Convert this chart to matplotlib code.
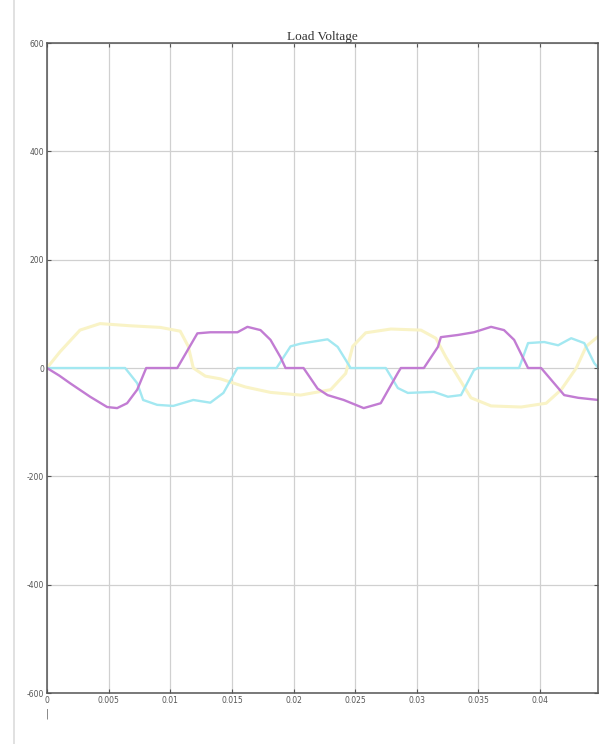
import matplotlib
matplotlib.use("Agg")
import matplotlib.pyplot as plt
from matplotlib.lines import Line2D

plt.rcParams["axes.unicode_minus"] = False

# time (s) and voltage
t_mag = [0.0, 0.0010, 0.00187, 0.0035, 0.00488, 0.00569, 0.0065, 0.00732, 0.00805, 0.01057,
         0.0122, 0.01325, 0.01545, 0.01626, 0.01732, 0.01813, 0.01894, 0.01935, 0.02081,
         0.02195, 0.02276, 0.02407, 0.02569, 0.02707, 0.02846, 0.0287, 0.03057, 0.03171,
         0.03195, 0.03333, 0.03463, 0.03602, 0.03707, 0.03789, 0.03902, 0.04008, 0.04195,
         0.04309, 0.04472]
v_mag = [0, -14, -28, -53, -72, -74, -65, -40, 0, 0,
         64, 66, 66, 76, 70, 52, 20, 0, 0,
         -38, -50, -59, -74, -65, -9, 0, 0, 39,
         57, 61, 66, 76, 70, 52, 0, 0, -50,
         -55, -59]

t_cyan = [0.0, 0.00634, 0.00732, 0.0078, 0.00894, 0.01024, 0.01187, 0.01325, 0.01431,
          0.01545, 0.01862, 0.01976, 0.02057, 0.02276, 0.02358, 0.02463, 0.02748, 0.02846,
          0.02927, 0.03138, 0.03252, 0.03358, 0.03463, 0.03496, 0.03829, 0.03902, 0.04033,
          0.04146, 0.04252, 0.04358, 0.04439, 0.04472]
v_cyan = [0, 0, -28, -59, -68, -70, -59, -64, -46,
          0, 0, 40, 45, 53, 39, 0, 0, -37,
          -46, -44, -53, -50, -4, 0, 0, 46, 48,
          42, 55, 46, 9, 0]

t_yel = [0.0, 0.00106, 0.00268, 0.00431, 0.00675, 0.00919, 0.01081, 0.01146, 0.01187,
         0.01285, 0.01407, 0.0161, 0.01813, 0.02057, 0.02301, 0.02423, 0.0248, 0.02585,
         0.02789, 0.03033, 0.03154, 0.03236, 0.03317, 0.03439, 0.03602, 0.03846, 0.04049,
         0.04171, 0.04293, 0.04374, 0.0448]
v_yel = [0, 30, 70, 82, 78, 75, 68, 40, 0,
         -15, -20, -35, -45, -50, -40, -10, 40, 65,
         72, 70, 55, 20, -10, -55, -70, -72, -65,
         -40, 0, 40, 60]

x_ticks = [0, 0.005, 0.01, 0.015, 0.02, 0.025, 0.03, 0.035, 0.04]
x_labels = ["0", "0.005", "0.01", "0.015", "0.02", "0.025", "0.03", "0.035", "0.04"]
y_ticks = [-600, -400, -200, 0, 200, 400, 600]

fig = plt.figure(figsize=(6.02, 7.44), dpi=100)
ax = fig.add_axes([0.078, 0.0685, 0.9155, 0.8737])

# scope traces
ax.plot(t_yel, v_yel, color="#f9f3c6", linewidth=2.2)
ax.plot(t_cyan, v_cyan, color="#a3e8f1", linewidth=1.7)
ax.plot(t_mag, v_mag, color="#c27cd3", linewidth=1.7)

ax.set_xlim(0, 0.0447)
ax.set_ylim(-600, 600)
ax.set_xticks(x_ticks)
ax.set_xticklabels(x_labels)
ax.set_yticks(y_ticks)
ax.grid(True, color="#d0d0d0", linewidth=0.9)
ax.set_axisbelow(True)
ax.tick_params(direction="in", length=3, labelsize=5.5, colors="#555555",
               top=True, right=True, pad=2)
for s in ax.spines.values():
    s.set_color("#555555")
    s.set_linewidth(1.1)

ax.set_title("Load Voltage", fontsize=9.5, family="Liberation Serif", pad=2, color="#333333")

# window border on the left and the small mark under the origin
fig.add_artist(Line2D([14 / 602, 14 / 602], [0, 1], color="#dcdcdc", linewidth=1.2))
fig.text(47 / 602, 1 - 714 / 744, "|", fontsize=7, color="#666666", ha="center", va="center")

fig.savefig("out.png", dpi=100)
